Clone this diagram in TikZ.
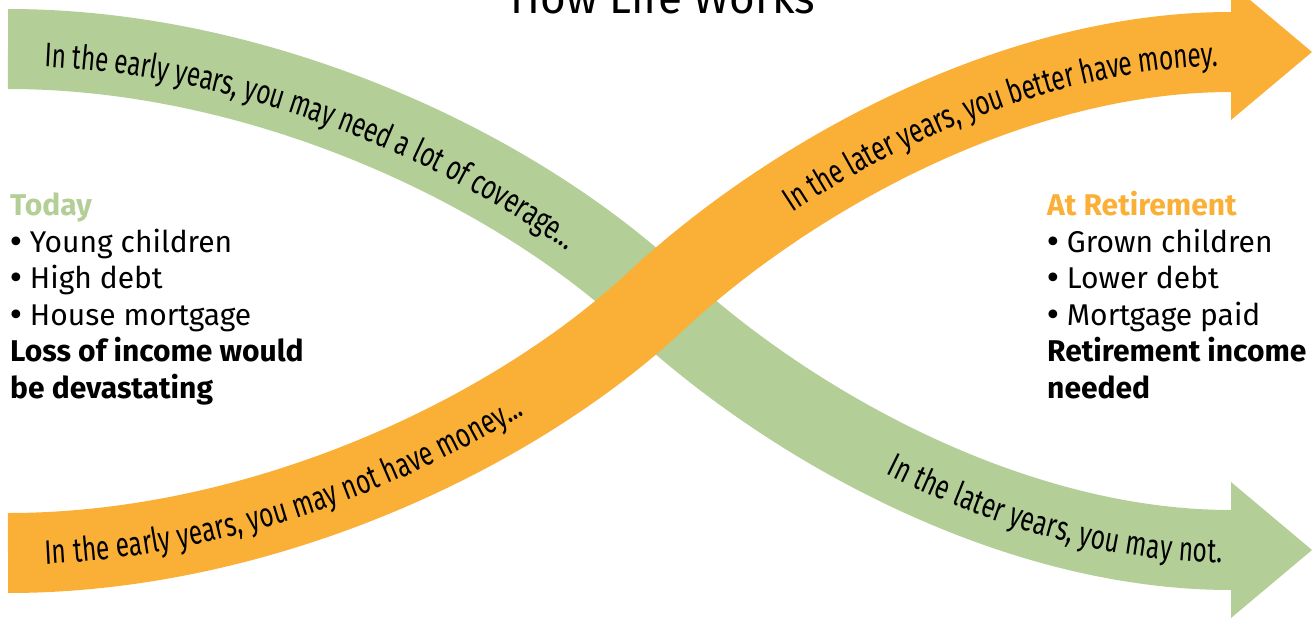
\documentclass[tikz,border=0pt]{standalone}
\usepackage{fontspec}
\setmainfont{Fira Sans}
\newfontfamily\bandfnt[FakeStretch=0.72]{Fira Sans}
\newfontfamily\bulfnt{DejaVu Sans}
\usetikzlibrary{decorations.text}
\definecolor{bandgreen}{RGB}{180,206,152}
\definecolor{bandorange}{RGB}{250,175,54}
\tikzset{
  band/.style={line width=80pt},
  lbl/.style={anchor=base west, inner sep=0pt, font=\fontsize{30}{30}\selectfont},
  lblb/.style={lbl, font=\fontsize{30}{30}\selectfont\bfseries},
}
\newcommand{\bfnt}{\bandfnt\fontsize{34}{34}\selectfont}
\newcommand{\bul}{\kern-3pt{\bulfnt •}\kern5pt}
\begin{document}
\begin{tikzpicture}[x=1pt,y=-1pt]
\path[use as bounding box] (0,0) rectangle (1314,619);
\clip (0,0) rectangle (1314,619);
% green band
\draw[band, draw=bandgreen] (8,49) .. controls (258,49) and (510,165) .. (656,301) .. controls (786,422) and (1009,550) .. (1231,550);
\fill[bandgreen] (1231,482) -- (1312,550) -- (1231,618) -- cycle;
\path[decorate, decoration={text along path, text={|\bfnt|In the early years, you may need a lot of coverage...}, text align={left, left indent=37pt}, raise=-17pt}]
  (8,49) .. controls (258,49) and (510,165) .. (656,301);
\path[decorate, decoration={text along path, text={|\bfnt|In the later years, you may not.}, text align={right, right indent=9pt}, raise=-13pt}]
  (656,301) .. controls (786,422) and (1009,550) .. (1231,550);
% orange band
\draw[band, draw=bandorange] (8,553) .. controls (258,553) and (510,437) .. (656,301) .. controls (786,180) and (1009,52) .. (1231,52);
\fill[bandorange] (1231,-16) -- (1312,52) -- (1231,120) -- cycle;
\path[decorate, decoration={text along path, text={|\bfnt|In the early years, you may not have money...}, text align={left, left indent=37pt}, raise=-12pt}]
  (8,553) .. controls (258,553) and (510,437) .. (656,301);
\path[decorate, decoration={text along path, text={|\bfnt|In the later years, you better have money.}, text align={right, right indent=13pt}, raise=-14pt}]
  (656,301) .. controls (786,180) and (1009,52) .. (1231,52);
% title
\node[anchor=base, inner sep=0pt, font=\fontsize{44}{44}\selectfont] (title) at (663,13) {How Life Works};
% left block
\node[lblb, text=bandgreen] (today) at (10,215) {Today};
\node[lbl] (l1) at (10,252) {\bul Young children};
\node[lbl] (l2) at (10,288.6) {\bul High debt};
\node[lbl] (l3) at (10,325.2) {\bul House mortgage};
\node[lblb] (l4) at (10,361.8) {Loss of income would};
\node[lblb] (l5) at (10,398.4) {be devastating};
% right block
\node[lblb, text=bandorange] (ret) at (1047,215) {At Retirement};
\node[lbl] (r1) at (1047,252) {\bul Grown children};
\node[lbl] (r2) at (1047,288.6) {\bul Lower debt};
\node[lbl] (r3) at (1047,325.2) {\bul Mortgage paid};
\node[lblb] (r4) at (1047,361.8) {Retirement income};
\node[lblb] (r5) at (1047,398.4) {needed};
\end{tikzpicture}
\end{document}
